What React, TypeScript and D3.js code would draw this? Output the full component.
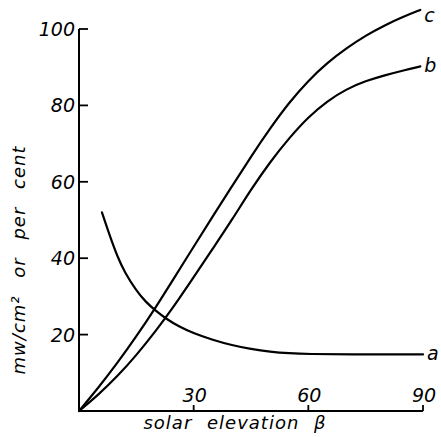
import { useEffect, useRef } from "react";
import * as d3 from "d3";

// curve a: falls with solar elevation, then levels off
const curveA: [number, number][] = [
  [6, 52], [8, 46], [10, 40.5], [12, 36.2], [15, 31.5], [17.5, 28.5], [20, 26.3],
  [23, 24], [26, 22.2], [30, 20.3], [35, 18.6], [40, 17.2], [45, 16.2],
  [50, 15.5], [55, 15.1], [60, 14.9], [70, 14.8], [90, 14.8],
];
// curve b
const curveB: [number, number][] = [
  [0, 0], [5, 4.2], [10, 9], [15, 14.6], [20, 20.8], [25, 27.6], [30, 35],
  [35, 42.5], [40, 50], [45, 58], [50, 65.2], [55, 71.5], [60, 77],
  [65, 81.2], [70, 84.3], [75, 86.4], [80, 87.9], [85, 89.2], [89.3, 90.2],
];
// curve c
const curveC: [number, number][] = [
  [0, 0], [5, 6], [10, 12.5], [15, 19.5], [20, 27], [25, 35], [30, 43],
  [35, 51], [40, 58.8], [45, 66.6], [50, 74], [55, 80.8], [60, 86.5],
  [65, 91.2], [70, 95], [75, 98.3], [80, 101], [85, 103.3], [89.3, 105],
];

const xTicks = [30, 60, 90];
const yTicks = [20, 40, 60, 80, 100];
const curveLabels = ["a", "b", "c"];

const W = 441;
const H = 437;

export default function App() {
  const svgRef = useRef<SVGSVGElement>(null);

  useEffect(() => {
    if (!svgRef.current) return;
    const svg = d3.select(svgRef.current);
    svg.selectAll("*").remove();

    const x = d3.scaleLinear().domain([0, 90]).range([79, 423]);
    const y = d3.scaleLinear().domain([0, 100]).range([411, 29]);
    const font = "'DejaVu Sans', sans-serif";

    // axes
    svg.append("line")
      .attr("x1", x(0)).attr("y1", y(100))
      .attr("x2", x(0)).attr("y2", y(0))
      .attr("stroke", "#000").attr("stroke-width", 2);
    svg.append("line")
      .attr("x1", x(0) - 1).attr("y1", y(0))
      .attr("x2", x(90)).attr("y2", y(0))
      .attr("stroke", "#000").attr("stroke-width", 2);

    // y ticks point inward
    svg.selectAll(".ytick").data(yTicks).enter().append("line")
      .attr("x1", x(0)).attr("x2", x(0) + 9)
      .attr("y1", (d) => y(d)).attr("y2", (d) => y(d))
      .attr("stroke", "#000").attr("stroke-width", 1.8);
    svg.selectAll(".ylab").data(yTicks).enter().append("text")
      .attr("x", x(0) - 4).attr("y", (d) => y(d) + 7)
      .attr("text-anchor", "end")
      .attr("font-family", font).attr("font-style", "italic")
      .attr("font-size", 19)
      .text((d) => d);

    // x ticks point upward
    svg.selectAll(".xtick").data(xTicks).enter().append("line")
      .attr("x1", (d) => x(d)).attr("x2", (d) => x(d))
      .attr("y1", y(0)).attr("y2", y(0) - 6)
      .attr("stroke", "#000").attr("stroke-width", 1.8);
    svg.selectAll(".xlab").data(xTicks).enter().append("text")
      .attr("x", (d) => x(d) + 1).attr("y", y(0) - 9)
      .attr("text-anchor", "middle")
      .attr("font-family", font).attr("font-style", "italic")
      .attr("font-size", 19)
      .text((d) => d);

    // axis titles
    svg.append("text")
      .attr("x", 235).attr("y", 429)
      .attr("text-anchor", "middle")
      .attr("font-family", font).attr("font-style", "italic")
      .attr("font-size", 18).attr("letter-spacing", 1).attr("word-spacing", 8)
      .text("solar elevation β");
    svg.append("text")
      .attr("transform", "translate(25,260) rotate(-90)")
      .attr("text-anchor", "middle")
      .attr("font-family", font).attr("font-style", "italic")
      .attr("font-size", 18).attr("letter-spacing", 1).attr("word-spacing", 11)
      .text("mw/cm² or per cent");

    // curves
    const line = d3.line<[number, number]>()
      .x((d) => x(d[0])).y((d) => y(d[1]))
      .curve(d3.curveBasis);
    const series = [curveA, curveB, curveC];
    series.forEach((s) => {
      svg.append("path")
        .attr("d", line(s))
        .attr("fill", "none")
        .attr("stroke", "#000")
        .attr("stroke-width", 2.2)
        .attr("stroke-linecap", "round");
    });

    // curve labels at the right end
    const labelDy = [6, 6, 12];
    series.forEach((s, i) => {
      const last = s[s.length - 1];
      svg.append("text")
        .attr("x", x(last[0]) + 4)
        .attr("y", y(last[1]) + labelDy[i])
        .attr("font-family", font).attr("font-style", "italic")
        .attr("font-size", 19)
        .text(curveLabels[i]);
    });
  }, []);

  return (
    <div style={{ width: W, height: H }}>
      <svg ref={svgRef} width={W} height={H} style={{ position: "absolute", left: 0, top: 0, background: "#fff" }} />
    </div>
  );
}
